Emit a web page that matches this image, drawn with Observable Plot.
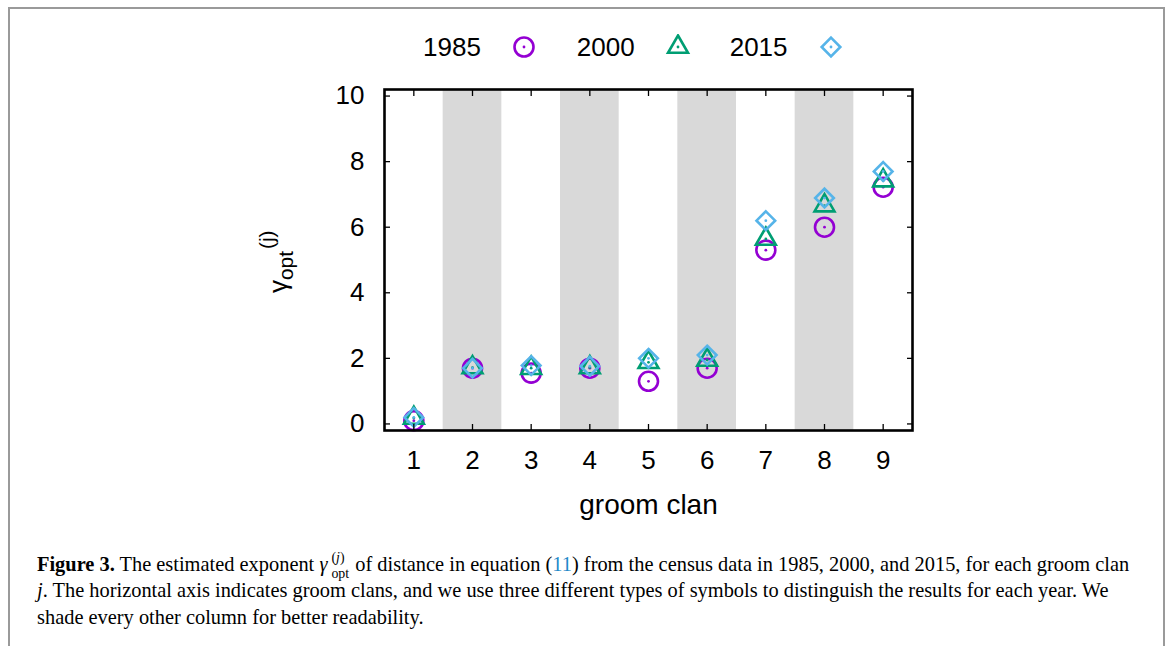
<!DOCTYPE html>
<html><head><meta charset="utf-8">
<script src="https://cdn.jsdelivr.net/npm/d3@7"></script>
<script src="https://cdn.jsdelivr.net/npm/@observablehq/plot@0.6"></script>
<style>
html,body{margin:0;padding:0;background:#fff}
body{width:1171px;height:646px;overflow:hidden;position:relative;font-family:"Liberation Sans",Arial,sans-serif;color:#000}
#border{position:absolute;left:8px;top:7px;width:1157px;height:700px;border:2px solid #9a9a9a;border-bottom:none;box-sizing:border-box;pointer-events:none}
#legend{position:absolute;left:423px;top:30px;height:34px;display:flex;align-items:center;font-size:26px}
#legend .item{display:flex;align-items:center}
#legend svg{display:block}
#chart{position:absolute;left:0;top:70px}
#caption{position:absolute;left:37px;top:551px;width:1120px;font-family:"Liberation Serif","Times New Roman",serif;font-size:20.4px;line-height:26.3px;white-space:nowrap}
#caption .ref{color:#1f8ac9}
#caption .stack{display:inline-block;vertical-align:middle;line-height:1.15;font-size:0.68em;text-align:left;margin:-6px 1px -6px 4px}
#caption .stack span{display:block}
</style>
</head><body>
<div id="border"></div>
<div id="legend"></div>
<div id="chart"></div>
<div id="caption"><b>Figure 3.</b> The estimated exponent <i>γ</i><span class="stack"><span>(<i>j</i>)</span><span>opt</span></span> of distance in equation (<span class="ref">11</span>) from the census data in 1985, 2000, and 2015, for each groom clan<br><i>j</i>. The horizontal axis indicates groom clans, and we use three different types of symbols to distinguish the results for each year. We<br>shade every other column for better readability.</div>
<script>
// ---- data ----
const clans = [1, 2, 3, 4, 5, 6, 7, 8, 9];
const shadedClans = [2, 4, 6, 8];
const years = ["1985", "2000", "2015"];
const v1985 = [0.10, 1.70, 1.55, 1.70, 1.30, 1.70, 5.30, 6.00, 7.22];
const v2000 = [0.18, 1.72, 1.70, 1.72, 1.88, 1.95, 5.64, 6.66, 7.42];
const v2015 = [0.20, 1.70, 1.78, 1.76, 2.00, 2.10, 6.20, 6.89, 7.70];
const yTicks = [0, 2, 4, 6, 8, 10];
const xDomain = [0.5, 9.5];
const yDomain = [-0.2, 10.2];

const colors = ["#9400d3", "#009e73", "#56b4e9"];
const symbols = ["circle", "triangle", "diamond2"];
const radii = [9.5, 7.4, 8.4];
const series = [v1985, v2000, v2015];

const rows = series.map(vals => clans.map((c, i) => ({clan: c, value: vals[i]})));

// ---- legend ----
const legend = d3.select("#legend");
const legendGaps = ["40px", "39px", "0px"];
years.forEach((y, k) => {
  const it = legend.append("div").attr("class", "item").style("margin-right", legendGaps[k]);
  it.append("span").text(y);
  const s = it.append("svg").attr("width", 26).attr("height", 26).style("margin-left", "30px");
  const sym = {circle: d3.symbolCircle, triangle: d3.symbolTriangle, diamond2: d3.symbolDiamond2}[symbols[k]];
  s.append("path").attr("transform", "translate(13,13)")
    .attr("d", d3.symbol(sym, radii[k] * radii[k] * Math.PI)())
    .attr("fill", "none").attr("stroke", colors[k]).attr("stroke-width", 2.6);
  s.append("circle").attr("cx", 13).attr("cy", 13).attr("r", 1.4).attr("fill", colors[k]);
});

// ---- chart ----
const marks = [
  Plot.rect(shadedClans, {x1: d => d - 0.5, x2: d => d + 0.5, y1: () => yDomain[0], y2: () => yDomain[1], fill: "#d9d9d9"}),
];
rows.forEach((data, k) => {
  marks.push(Plot.dot(data, {x: "clan", y: "value", symbol: () => symbols[k], r: radii[k], stroke: colors[k], strokeWidth: 2.6, fill: "none"}));
  marks.push(Plot.dot(data, {x: "clan", y: "value", r: 1.4, fill: colors[k], stroke: "none"}));
});
marks.push(
  Plot.axisY(yTicks, {anchor: "left", tickSize: -6, tickPadding: 26, strokeWidth: 1.3, fontSize: 26, label: null}),
  Plot.axisY(yTicks, {anchor: "right", tickSize: -6, tickFormat: () => "", strokeWidth: 1.3, label: null}),
  Plot.axisX(clans, {anchor: "bottom", tickSize: -6, tickPadding: 26, strokeWidth: 1.3, fontSize: 26, label: null}),
  Plot.axisX(clans, {anchor: "top", tickSize: -6, tickFormat: () => "", strokeWidth: 1.3, label: null}),
  Plot.text(["groom clan"], {text: d => d, frameAnchor: "bottom", dy: 83, fontSize: 28}),
  Plot.text(["γ"], {text: d => d, frameAnchor: "left", dx: -106, dy: 33, rotate: -90, fontSize: 26}),
  Plot.frame({stroke: "black", strokeWidth: 2.6})
);

const plot = Plot.plot({
  width: 1171,
  height: 470,
  marginLeft: 384,
  marginRight: 259,
  marginTop: 19,
  marginBottom: 110,
  x: {domain: xDomain, axis: null},
  y: {domain: yDomain, axis: null},
  symbol: {type: "identity"},
  style: {fontFamily: "'Liberation Sans', Arial, sans-serif", fontSize: "26px", color: "#000", background: "transparent", overflow: "visible"},
  marks
});
document.getElementById("chart").appendChild(plot);

// sub/superscript for the y label
d3.select(plot).selectAll("text").filter(function() { return this.textContent === "γ"; }).each(function() {
  const t = d3.select(this);
  t.append("tspan").attr("dy", "0.32em").attr("font-size", "0.8em").text("opt");
  t.append("tspan").attr("dy", "-0.95em").attr("dx", "0.1em").attr("font-size", "0.8em").text("(j)");
});
</script>
</body></html>
